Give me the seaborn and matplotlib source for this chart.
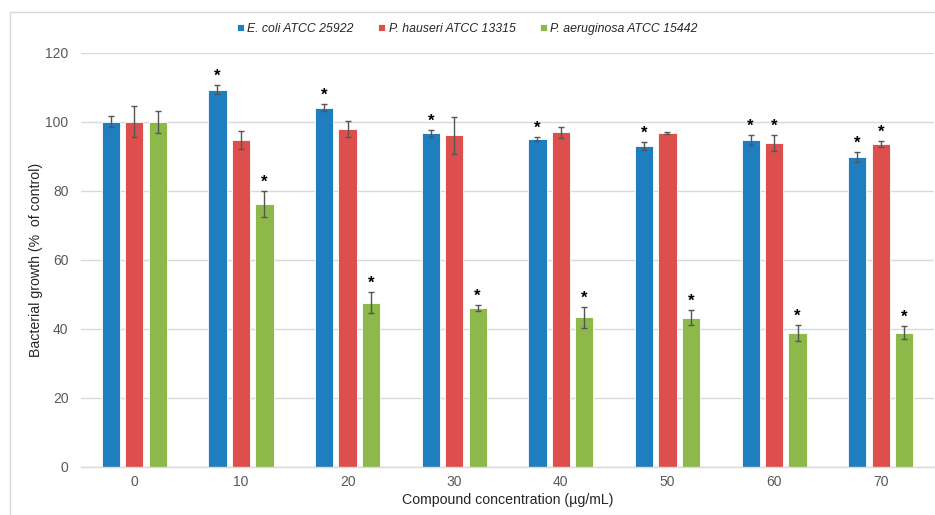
import matplotlib
matplotlib.use("Agg")
import matplotlib.pyplot as plt
import seaborn as sns
import pandas as pd
import numpy as np
from matplotlib.patches import Rectangle

# Concentrations (µg/mL) on the x axis
concentrations = ["0", "10", "20", "30", "40", "50", "60", "70"]
strains = ["E. coli ATCC 25922", "P. hauseri ATCC 13315", "P. aeruginosa ATCC 15442"]

# Mean growth (% of control) per strain
ecoli_mean = [100.0, 109.2, 104.1, 96.6, 94.9, 93.0, 94.6, 89.7]
phauseri_mean = [100.0, 94.7, 97.9, 96.0, 96.9, 96.7, 93.8, 93.6]
paerug_mean = [100.0, 76.1, 47.5, 45.9, 43.3, 43.2, 38.7, 38.8]

# Standard deviations
ecoli_sd = [1.6, 1.3, 1.1, 0.9, 0.6, 1.1, 1.4, 1.4]
phauseri_sd = [4.5, 2.6, 2.4, 5.5, 1.5, 0.3, 2.3, 0.9]
paerug_sd = [3.2, 3.7, 3.0, 0.9, 3.0, 2.1, 2.4, 1.9]

# Significance vs. control (1 = marked with an asterisk)
ecoli_sig = [0, 1, 1, 1, 1, 1, 1, 1]
phauseri_sig = [0, 0, 0, 0, 0, 0, 1, 1]
paerug_sig = [0, 1, 1, 1, 1, 1, 1, 1]

colors = ["#1F7EC0", "#DD4F4C", "#8DB94B"]

means = [ecoli_mean, phauseri_mean, paerug_mean]
sds = [ecoli_sd, phauseri_sd, paerug_sd]
sigs = [ecoli_sig, phauseri_sig, paerug_sig]

rows = []
for s, m, e, g in zip(strains, means, sds, sigs):
    for c, mv, ev, gv in zip(concentrations, m, e, g):
        rows.append({"conc": c, "strain": s, "growth": mv, "sd": ev, "sig": gv})
df = pd.DataFrame(rows)

sns.set_theme(style="white")
plt.rcParams["font.family"] = ["Liberation Sans", "DejaVu Sans"]

fig = plt.figure(figsize=(9.35, 5.15), dpi=100)
ax = fig.add_axes([0.0866, 0.0938, 0.9124, 0.8039])

sns.barplot(data=df, x="conc", y="growth", hue="strain", order=concentrations,
            hue_order=strains, palette=colors, width=0.66, gap=0.22,
            errorbar=None, edgecolor="white", linewidth=0.6, saturation=1,
            ax=ax, legend=True)

# Error bars and asterisks placed on each drawn bar
for container, s in zip(ax.containers, strains):
    sub = df[df["strain"] == s].set_index("conc").loc[concentrations]
    for patch, (_, r) in zip(container.patches, sub.iterrows()):
        xc = patch.get_x() + patch.get_width() / 2
        h = patch.get_height()
        ax.errorbar(xc, h, yerr=r["sd"], fmt="none", ecolor="#555555",
                    elinewidth=1.0, capsize=2.3, capthick=1.0, zorder=4)
        if r["sig"]:
            ax.annotate("*", xy=(xc, h + r["sd"]), xytext=(0, 1),
                        textcoords="offset points", ha="center", va="bottom",
                        fontsize=12, color="black", fontweight="bold")

ax.set_xlim(-0.5, len(concentrations) - 0.5)
ax.set_ylim(0, 120)
ax.set_yticks(np.arange(0, 121, 20))
ax.grid(axis="y", color="#D9D9D9", linewidth=1.0)
ax.grid(axis="x", visible=False)
ax.set_axisbelow(True)
for side in ["top", "right", "left"]:
    ax.spines[side].set_visible(False)
ax.spines["bottom"].set_color("#D9D9D9")
ax.spines["bottom"].set_linewidth(1.0)
ax.tick_params(axis="both", length=0, labelsize=10, labelcolor="#595959")
ax.tick_params(axis="x", pad=6)
ax.tick_params(axis="y", pad=9)

ax.set_xlabel("Compound concentration (\u00b5g/mL)", fontsize=10.2, color="#262626", labelpad=3)
ax.set_ylabel("Bacterial growth (%  of control)", fontsize=10.2, color="#262626")
ax.yaxis.set_label_coords(-(81 - 43) / (0.9124 * 935), 0.5)

handles, labels = ax.get_legend_handles_labels()
ax.legend_.remove()
fig.legend(handles, labels, loc="center", bbox_to_anchor=(0.5, 1 - 29 / 515), ncol=3,
           frameon=False, prop={"style": "italic", "size": 8.8},
           handlelength=0.55, handleheight=0.55, handletextpad=0.3,
           columnspacing=2.0)

# Outer chart frame
fig.patches.append(Rectangle((10 / 935, -0.1), 1.2, 1 - 12 / 515 + 0.1,
                             transform=fig.transFigure, fill=False,
                             edgecolor="#D9D9D9", linewidth=1.0))

fig.savefig("out.png", dpi=100)
